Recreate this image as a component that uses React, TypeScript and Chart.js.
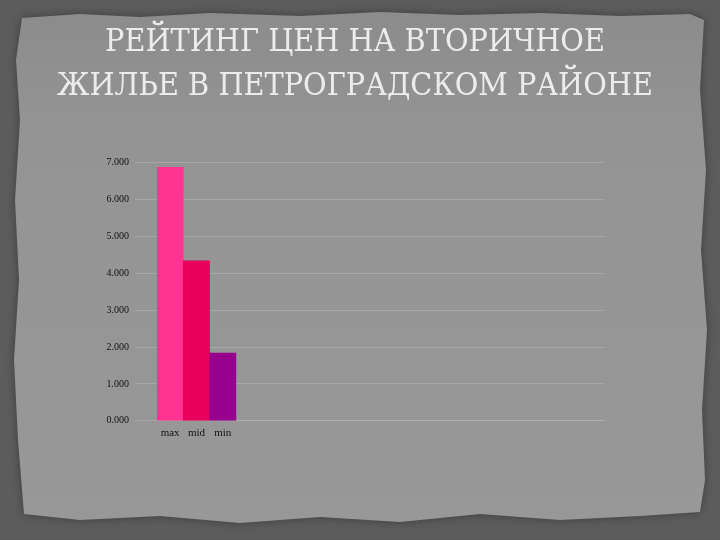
import React, { useEffect, useRef } from "react";
import { Chart, registerables } from "chart.js";

Chart.register(...registerables);

const titleLine1 = "РЕЙТИНГ ЦЕН НА ВТОРИЧНОЕ";
const titleLine2 = "ЖИЛЬЕ В ПЕТРОГРАДСКОМ РАЙОНЕ";
const categories = ["max", "mid", "min"];
const values = [6.88, 4.34, 1.84];
const barColors = ["#FF3392", "#E8005C", "#98008E"];
const yMin = 0;
const yMax = 7;
const yStep = 1;
const totalSlots = 17;

const paperPoints: [number, number][] = [
  [22, 18], [80, 14], [140, 17], [210, 13], [300, 16], [380, 12], [460, 15], [540, 13], [620, 16], [690, 14], [704, 20],
  [700, 90], [706, 170], [701, 250], [707, 330], [702, 410], [705, 480], [700, 512],
  [640, 516], [560, 520], [480, 514], [400, 522], [320, 517], [240, 523], [160, 516], [80, 520], [24, 514],
  [18, 440], [14, 360], [19, 280], [15, 200], [20, 120], [16, 60],
];

const backgroundPlugin = {
  id: "paperBackground",
  beforeDraw(chart: any) {
    const ctx = chart.ctx as CanvasRenderingContext2D;
    const w = chart.width;
    const h = chart.height;
    ctx.save();
    ctx.fillStyle = "#5c5c5c";
    ctx.fillRect(0, 0, w, h);
    ctx.beginPath();
    paperPoints.forEach(([x, y], i) => (i === 0 ? ctx.moveTo(x, y) : ctx.lineTo(x, y)));
    ctx.closePath();
    ctx.shadowColor = "rgba(40,40,40,0.6)";
    ctx.shadowBlur = 10;
    const g = ctx.createLinearGradient(0, 0, 0, h);
    g.addColorStop(0, "#8b8b8b");
    g.addColorStop(0.25, "#949494");
    g.addColorStop(1, "#989898");
    ctx.fillStyle = g;
    ctx.fill();
    ctx.restore();
  },
};

const titleFamily = "'DejaVu Serif Condensed', 'DejaVu Serif', serif";

export default function App() {
  const ref = useRef<HTMLCanvasElement | null>(null);
  useEffect(() => {
    if (!ref.current) return;
    const labels = [...categories, ...Array(totalSlots - categories.length).fill("")];
    const data = [...values, ...Array(totalSlots - values.length).fill(null)];
    const colors = [...barColors, ...Array(totalSlots - barColors.length).fill("transparent")];
    const chart = new Chart(ref.current, {
      type: "bar",
      data: {
        labels,
        datasets: [
          {
            data,
            backgroundColor: colors,
            borderWidth: 0,
            barPercentage: 1,
            categoryPercentage: 1,
          },
        ],
      },
      options: {
        responsive: false,
        animation: false,
        layout: { padding: { left: 0, right: 10, top: 0, bottom: 94 } },
        plugins: {
          legend: { display: false },
          tooltip: { enabled: false },
          title: {
            display: true,
            text: titleLine1,
            color: "#ececec",
            font: { family: titleFamily, size: 32, weight: "normal", lineHeight: 1.2 },
            padding: { top: 23, bottom: 0 },
          },
          subtitle: {
            display: true,
            text: titleLine2,
            color: "#ececec",
            font: { family: titleFamily, size: 32, weight: "normal", lineHeight: 1.2 },
            padding: { top: 6, bottom: 57 },
          },
        },
        scales: {
          x: {
            grid: { display: false, drawTicks: false },
            border: { display: true, color: "rgba(170,185,175,0.6)" },
            ticks: {
              color: "#111",
              font: { family: "'Liberation Serif', serif", size: 11 },
              padding: 6,
              maxRotation: 0,
              autoSkip: false,
            },
          },
          y: {
            min: yMin,
            max: yMax,
            border: { display: false },
            grid: { color: "rgba(170,170,170,0.85)", lineWidth: 1, drawTicks: true, tickLength: 22 },
            ticks: {
              stepSize: yStep,
              color: "#111",
              padding: 6,
              font: { family: "'Liberation Serif', serif", size: 10 },
              callback: (v: any) => Number(v).toFixed(3),
            },
            afterFit: (s: any) => {
              s.width = 157;
            },
          },
          yRight: {
            position: "right",
            display: true,
            grid: { display: false, drawTicks: false },
            border: { display: false },
            ticks: { display: false },
            afterFit: (s: any) => {
              s.width = 106;
            },
          },
        },
      },
      plugins: [backgroundPlugin],
    });
    return () => chart.destroy();
  }, []);
  return (
    <div style={{ position: "fixed", left: 0, top: 0, width: 720, height: 540 }}>
      <canvas ref={ref} width={720} height={540} style={{ display: "block" }} />
    </div>
  );
}
